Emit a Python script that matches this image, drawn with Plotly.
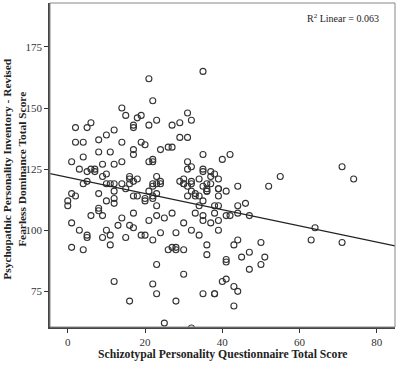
import numpy as np
import plotly.graph_objects as go

# Schizotypal Personality Questionnaire total score (x) and PPI-R Fearless Dominance total score (y)
spq = [
    1, 2, 2, 4, 4, 5, 6, 3, 5, 6, 7, 7, 8, 8, 9, 10, 10, 9, 11, 12, 12, 14, 14, 14, 15,
    17, 17, 18, 19, 17, 17, 19, 20, 21, 21, 22, 23, 21, 22, 22, 24, 26, 27, 27, 29, 31,
    32, 29, 31, 31, 32, 31, 35, 35, 40, 42, 35, 35, 37, 38, 37, 39, 55, 71, 74, 16, 16,
    18, 23, 24, 34, 29, 30, 30, 32, 4, 5, 10, 44, 52, 11, 12, 14, 17, 22, 30, 31, 32,
    35, 36, 37, 39, 32, 33, 34, 31, 33, 36, 39, 16, 21, 22, 23, 24,
    0, 0, 1, 2, 1, 3, 6, 8, 8, 8, 9, 10, 12, 12, 12, 13, 14, 15, 16, 17, 17, 17, 18,
    20, 20, 21, 22, 22, 23, 23, 23, 25, 27, 30, 32, 33, 34, 35, 35, 37, 39, 38, 38, 39,
    36, 36, 39, 41, 35, 44, 46, 44, 41, 42, 47, 64,
    1, 4, 5, 5, 9, 10, 11, 11, 15, 19, 20, 22, 24, 26, 27, 28, 28, 30, 28, 34, 12, 16,
    22, 23, 23, 25, 28, 30, 32, 35, 38, 38, 36, 36, 40, 41, 43, 44, 43, 43, 44, 50, 47,
    45, 51, 41, 41, 50, 47, 39, 63, 71,
]
fd = [
    128, 142, 136, 136, 130, 142, 144, 125, 124, 125, 125, 124, 137, 132, 127, 139, 123,
    122, 132, 141, 127, 150, 136, 128, 147, 143, 142, 146, 147, 133, 131, 136, 135, 162,
    143, 153, 145, 128, 129, 128, 133, 134, 134, 143, 144, 148, 145, 138, 138, 128, 126,
    125, 165, 131, 129, 131, 125, 124, 124, 123, 122, 121, 122, 126, 121, 122, 121, 121,
    122, 120, 121, 120, 121, 119, 120, 119, 120, 119, 118, 118, 119, 119, 119, 120, 119,
    119, 118, 119, 118, 119, 119, 117, 116, 115, 114, 114, 114, 116, 114, 119, 116, 118,
    119, 119,
    112, 110, 115, 114, 103, 100, 106, 115, 109, 108, 106, 112, 116, 113, 111, 102, 105,
    117, 102, 101, 107, 114, 114, 113, 112, 104, 114, 113, 115, 110, 106, 105, 107, 103,
    100, 107, 110, 106, 104, 103, 104, 107, 110, 110, 117, 116, 117, 116, 112, 110, 111,
    107, 106, 106, 106, 101,
    93, 92, 98, 97, 97, 100, 98, 94, 97, 98, 98, 96, 99, 92, 93, 93, 92, 92, 99, 98, 79,
    71, 78, 86, 74, 62, 71, 82, 60, 74, 74, 74, 94, 90, 79, 80, 77, 75, 69, 94, 96, 95,
    91, 89, 89, 88, 87, 86, 84, 100, 96, 95,
]

x_ticks = [0, 20, 40, 60, 80]
y_ticks = [75, 100, 125, 150, 175]
x_title = "<b>Schizotypal Personality Questionnaire Total Score</b>"
y_title = "<b>Psychopathic Personality Inventory - Revised<br>Fearless Dominance Total Score</b>"
r2_label = "R<sup>2</sup> Linear = 0.063"

x_arr = np.array(spq, dtype=float)
y_arr = np.array(fd, dtype=float)
slope, intercept = np.polyfit(x_arr, y_arr, 1)
x_range = [-4.6, 84.7]
line_x = np.array(x_range)
line_y = intercept + slope * line_x

serif = "Liberation Serif, Times New Roman, serif"

fig = go.Figure()
fig.add_trace(go.Scatter(
    x=spq, y=fd, mode="markers",
    marker=dict(symbol="circle-open", size=6, color="#333333", line=dict(width=1.1)),
    showlegend=False, hoverinfo="x+y",
))
fig.add_trace(go.Scatter(
    x=line_x, y=line_y, mode="lines",
    line=dict(color="#222222", width=1.3),
    showlegend=False, hoverinfo="skip",
))

fig.update_layout(
    width=397, height=366,
    margin=dict(l=50, r=2, t=3, b=39, autoexpand=False),
    paper_bgcolor="white", plot_bgcolor="white",
    font=dict(family=serif, color="#222222", size=11),
    xaxis=dict(
        range=x_range, tickvals=x_ticks, ticks="outside", ticklen=4, tickcolor="#333",
        showgrid=False, zeroline=False, showline=True, linecolor="#444", linewidth=1.8,
        tickfont=dict(size=11, family=serif, color="#333"), automargin=False,
    ),
    yaxis=dict(
        range=[60.4, 193], tickvals=y_ticks, ticks="outside", ticklen=4, tickcolor="#333",
        showgrid=False, zeroline=False, showline=True, linecolor="#444", linewidth=1.8,
        tickfont=dict(size=11, family=serif, color="#333"), automargin=False,
    ),
    shapes=[dict(type="rect", xref="paper", yref="paper", x0=0, x1=1, y0=0, y1=1,
                 line=dict(color="#888888", width=1))],
    annotations=[
        dict(text=r2_label, xref="paper", yref="paper", x=0.958, y=0.977,
             xanchor="right", yanchor="top", showarrow=False,
             font=dict(size=10, family=serif, color="#222")),
        dict(text=x_title, xref="paper", yref="paper", x=0.5, y=-0.086,
             xanchor="center", yanchor="middle", showarrow=False,
             font=dict(size=11.7, family=serif, color="#222")),
        dict(text=y_title, xref="paper", yref="paper", x=-0.103, y=0.49,
             xanchor="center", yanchor="middle", showarrow=False, textangle=-90,
             font=dict(size=11.4, family=serif, color="#222")),
    ],
)

fig.write_html(
    "out.html",
    config={"displayModeBar": False},
    post_script="document.body.style.margin='0';document.body.style.padding='0';"
                "document.body.style.overflow='hidden';",
)
